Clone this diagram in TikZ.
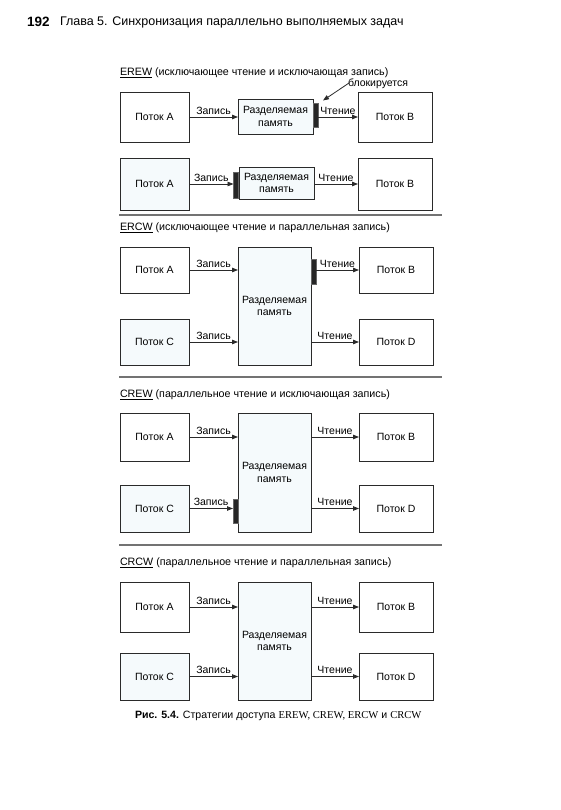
\documentclass[tikz,border=0pt]{standalone}
\usepackage{fontspec}
\setmainfont{Liberation Sans}
\newfontfamily\serifcap{Liberation Serif}
\usetikzlibrary{arrows.meta}
\definecolor{tint}{HTML}{F5FAFC}
\definecolor{edge}{HTML}{2A2A2A}
\begin{document}
\begin{tikzpicture}[x=1pt,y=-1pt,
  every node/.style={inner sep=0pt, outer sep=0pt},
  txt/.style={font=\fontsize{10.5}{12.5}\selectfont},
  tl/.style={txt, draw=edge, line width=0.8pt, fill=white, minimum width=69pt, align=center},
  tr/.style={txt, draw=edge, line width=0.8pt, fill=white, minimum width=74pt, align=center},
  tlt/.style={tl, fill=tint},
  mem/.style={txt, draw=edge, line width=0.8pt, fill=tint, align=center},
  blk/.style={draw=black!60, line width=0.5pt, fill=black!85, minimum width=5pt},
  arr/.style={line width=0.8pt, draw=edge, -{Triangle[length=6pt,width=4.5pt]}},
  lab/.style={txt, above=2.5pt, midway},
  ttl/.style={font=\fontsize{10.7}{12.5}\selectfont, anchor=west},
  sep/.style={draw=black!55, line width=1.3pt}
]
\useasboundingbox (0,0) rectangle (560,810);

% header
\node[anchor=west, font=\fontsize{13.5}{15}\selectfont\bfseries] (pg) at (27,22) {192};
\node[anchor=west, font=\fontsize{12.5}{15}\selectfont] (hd) at (60,22) {Глава 5. Синхронизация параллельно выполняемых задач};

% ---------- EREW ----------
\node[ttl] (t1) at (120,73) {\underline{EREW} (исключающее чтение и исключающая запись)};
\node[tl, minimum height=50pt] (A1) at (154.5,117) {Поток A};
\node[mem, minimum width=75pt, minimum height=35pt] (M1) at (275.5,116.5) {Разделяемая\\память};
\node[blk, minimum height=24pt] (K1) at (315.5,115.5) {};
\node[tr, minimum height=50pt] (B1) at (395,117) {Поток B};
\draw[arr] (A1.east) -- (M1.west |- A1.east) node[lab] {Запись};
\draw[arr] (K1.east |- B1.west) -- (B1.west) node[lab] {Чтение};
\node[txt, anchor=west] (bl) at (348,84) {блокируется};
\draw[line width=0.8pt, draw=edge, -{Triangle[length=6pt,width=4.5pt]}] ([xshift=1pt,yshift=1pt]bl.west) -- ([xshift=5pt,yshift=3pt]K1.north east);

\node[tlt, minimum height=52pt] (A2) at (154.5,184) {Поток A};
\node[blk, minimum height=26pt] (K2) at (236,185.5) {};
\node[mem, minimum width=75pt, minimum height=32pt] (M2) at (276.5,183) {Разделяемая\\память};
\node[tr, minimum height=52pt] (B2) at (395,184) {Поток B};
\draw[arr] (A2.east) -- (K2.west |- A2.east) node[lab] {Запись};
\draw[arr] (M2.east |- B2.west) -- (B2.west) node[lab] {Чтение};

\draw[sep] (119,215) -- (442,215);

% ---------- ERCW ----------
\node[ttl] (t2) at (120,228) {\underline{ERCW} (исключающее чтение и параллельная запись)};
\node[tl, minimum height=46pt] (A3) at (154.5,270) {Поток A};
\node[tlt, minimum height=46pt] (C3) at (154.5,342) {Поток C};
\node[mem, minimum width=73pt, minimum height=118pt] (M3) at (274.5,306) {Разделяемая\\память};
\node[blk, minimum height=25pt] (K3) at (313.5,272) {};
\node[tr, minimum height=46pt] (B3) at (396,270) {Поток B};
\node[tr, minimum height=46pt] (D3) at (396,342) {Поток D};
\draw[arr] (A3.east) -- (M3.west |- A3.east) node[lab] {Запись};
\draw[arr] (C3.east) -- (M3.west |- C3.east) node[lab] {Запись};
\draw[arr] (K3.east |- B3.west) -- (B3.west) node[lab] {Чтение};
\draw[arr] (M3.east |- D3.west) -- (D3.west) node[lab] {Чтение};

\draw[sep] (119,377) -- (442,377);

% ---------- CREW ----------
\node[ttl] (t3) at (120,395) {\underline{CREW} (параллельное чтение и исключающая запись)};
\node[tl, minimum height=48pt] (A4) at (154.5,437) {Поток A};
\node[tlt, minimum height=47pt] (C4) at (154.5,508.5) {Поток C};
\node[mem, minimum width=73pt, minimum height=119pt] (M4) at (274.5,472.5) {Разделяемая\\память};
\node[blk, minimum height=24pt] (K4) at (235.5,511) {};
\node[tr, minimum height=48pt] (B4) at (396,437) {Поток B};
\node[tr, minimum height=47pt] (D4) at (396,508.5) {Поток D};
\draw[arr] (A4.east) -- (M4.west |- A4.east) node[lab] {Запись};
\draw[arr] (C4.east) -- (K4.west |- C4.east) node[lab] {Запись};
\draw[arr] (M4.east |- B4.west) -- (B4.west) node[lab] {Чтение};
\draw[arr] (M4.east |- D4.west) -- (D4.west) node[lab] {Чтение};

\draw[sep] (119,545) -- (442,545);

% ---------- CRCW ----------
\node[ttl] (t4) at (120,563) {\underline{CRCW} (параллельное чтение и параллельная запись)};
\node[tl, minimum height=50pt] (A5) at (154.5,607) {Поток A};
\node[tlt, minimum height=47pt] (C5) at (154.5,676.5) {Поток C};
\node[mem, minimum width=73pt, minimum height=118pt] (M5) at (274.5,641) {Разделяемая\\память};
\node[tr, minimum height=50pt] (B5) at (396,607) {Поток B};
\node[tr, minimum height=47pt] (D5) at (396,676.5) {Поток D};
\draw[arr] (A5.east) -- (M5.west |- A5.east) node[lab] {Запись};
\draw[arr] (C5.east) -- (M5.west |- C5.east) node[lab] {Запись};
\draw[arr] (M5.east |- B5.west) -- (B5.west) node[lab] {Чтение};
\draw[arr] (M5.east |- D5.west) -- (D5.west) node[lab] {Чтение};

% caption
\node[anchor=west, font=\fontsize{10.6}{12.5}\selectfont] (cap) at (135,716) {{\bfseries Рис. 5.4.} Стратегии доступа {\serifcap EREW, CREW, ERCW} и {\serifcap CRCW}};
\end{tikzpicture}
\end{document}
